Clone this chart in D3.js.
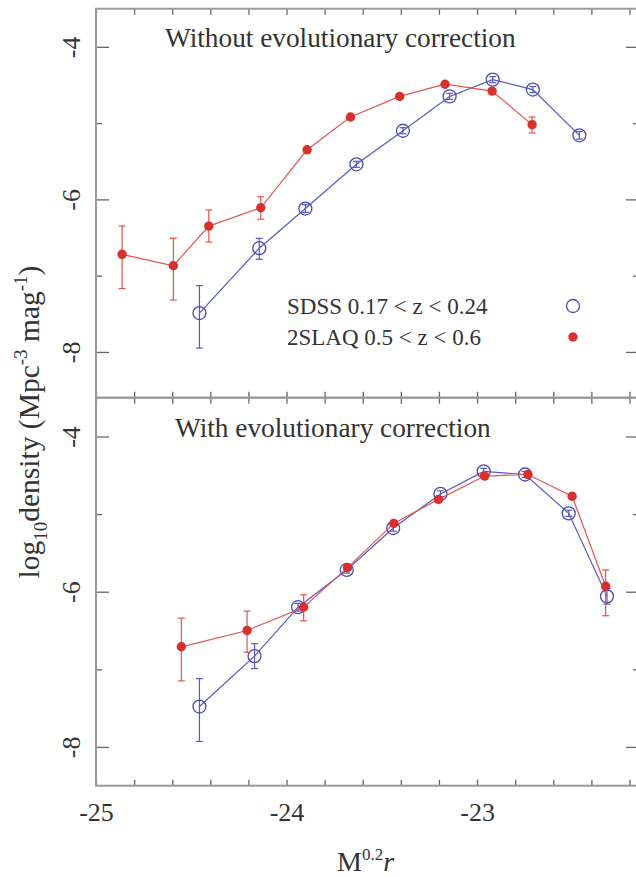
<!DOCTYPE html>
<html><head><meta charset="utf-8">
<script src="https://cdn.jsdelivr.net/npm/d3@7"></script>
<style>
html,body{margin:0;padding:0;background:#fff;}
svg{display:block;}
text{font-family:"Liberation Serif","Times New Roman",serif;fill:#333;}
</style></head>
<body>
<svg id="chart" width="636" height="877"></svg>
<script>
// ---------- data ----------
const xTickValues = [-25, -24, -23];
const yTickValues = [-8, -6, -4];
const yMinorValues = [-7, -5];

// Top panel: without evolutionary correction
const topSdssM   = [-24.457, -24.143, -23.901, -23.633, -23.389, -23.144, -22.918, -22.707, -22.463];
const topSdssLog = [-7.49, -6.64, -6.12, -5.54, -5.10, -4.65, -4.43, -4.56, -5.16];
const topSdssUp  = [0.36, 0.13, 0.05, 0.04, 0.04, 0.04, 0.04, 0.04, 0.05];
const topSdssDn  = [0.46, 0.145, 0.05, 0.04, 0.04, 0.04, 0.04, 0.04, 0.05];

const top2slaqM   = [-24.863, -24.594, -24.408, -24.135, -23.892, -23.664, -23.406, -23.168, -22.921, -22.711];
const top2slaqLog = [-6.72, -6.87, -6.35, -6.11, -5.35, -4.92, -4.65, -4.49, -4.58, -5.02];
const top2slaqUp  = [0.37, 0.36, 0.21, 0.145, 0.03, 0.03, 0.03, 0.03, 0.03, 0.10];
const top2slaqDn  = [0.45, 0.45, 0.21, 0.15, 0.03, 0.03, 0.03, 0.03, 0.03, 0.11];

// Bottom panel: with evolutionary correction
const botSdssM   = [-24.457, -24.168, -23.939, -23.684, -23.440, -23.192, -22.965, -22.748, -22.519, -22.318];
const botSdssLog = [-7.48, -6.83, -6.20, -5.72, -5.18, -4.74, -4.45, -4.49, -4.99, -6.06];
const botSdssUp  = [0.36, 0.16, 0.05, 0.04, 0.04, 0.04, 0.04, 0.04, 0.04, 0.10];
const botSdssDn  = [0.45, 0.16, 0.05, 0.04, 0.04, 0.04, 0.04, 0.04, 0.04, 0.10];

const bot2slaqM   = [-24.552, -24.207, -23.910, -23.680, -23.437, -23.203, -22.960, -22.733, -22.501, -22.325];
const bot2slaqLog = [-6.71, -6.50, -6.20, -5.69, -5.12, -4.81, -4.51, -4.49, -4.77, -5.93];
const bot2slaqUp  = [0.37, 0.25, 0.16, 0.03, 0.03, 0.03, 0.03, 0.03, 0.03, 0.21];
const bot2slaqDn  = [0.44, 0.28, 0.175, 0.03, 0.03, 0.03, 0.03, 0.03, 0.03, 0.38];

const panelTitles = ["Without evolutionary correction", "With evolutionary correction"];
const legendLabels = ["SDSS 0.17 < z < 0.24", "2SLAQ 0.5 < z < 0.6"];

// ---------- styles ----------
const blue = "#4a4ab8", blueLine = "#5858c4";
const red = "#d8302c", redLine = "#e35550";
const frameCol = "#9a9a9a", tickCol = "#666";

const svg = d3.select("#chart");
const x = d3.scaleLinear().domain([-25, -22.15]).range([96, 639]);

const panels = [
  {y: d3.scaleLinear().domain([-8.6, -3.5]).range([397.7, 8.7]),
   sdss: [topSdssM, topSdssLog, topSdssUp, topSdssDn],
   slaq: [top2slaqM, top2slaqLog, top2slaqUp, top2slaqDn],
   title: panelTitles[0], tx: 165, ty: 47, legend: true, bottom: false},
  {y: d3.scaleLinear().domain([-8.5, -3.5]).range([785.7, 397.7]),
   sdss: [botSdssM, botSdssLog, botSdssUp, botSdssDn],
   slaq: [bot2slaqM, bot2slaqLog, bot2slaqUp, bot2slaqDn],
   title: panelTitles[1], tx: 175, ty: 437, legend: false, bottom: true}
];

const xMinor = d3.range(-25, -22.1, 0.2).map(v => +v.toFixed(1));

function styleAxis(g) {
  g.select(".domain").remove();
  g.selectAll(".tick line").attr("stroke", tickCol).attr("stroke-width", 1.3);
}

panels.forEach(p => {
  const y = p.y;
  const [y0, y1] = y.range();
  const g = svg.append("g");

  g.append("g").attr("transform", `translate(${x.range()[0]},0)`)
    .call(d3.axisLeft(y).tickValues(yTickValues).tickSize(-13).tickFormat(""))
    .call(styleAxis);
  g.append("g").attr("transform", `translate(${x.range()[0]},0)`)
    .call(d3.axisLeft(y).tickValues(yMinorValues).tickSize(-6).tickFormat(""))
    .call(styleAxis);
  g.append("g").attr("transform", `translate(${x.range()[1]},0)`)
    .call(d3.axisRight(y).tickValues(yTickValues).tickSize(-13).tickFormat(""))
    .call(styleAxis);
  g.append("g").attr("transform", `translate(${x.range()[1]},0)`)
    .call(d3.axisRight(y).tickValues(yMinorValues).tickSize(-6).tickFormat(""))
    .call(styleAxis);
  g.append("g").attr("transform", `translate(0,${y1})`)
    .call(d3.axisTop(x).tickValues(xMinor).tickSize(-6).tickFormat(""))
    .call(styleAxis);
  g.append("g").attr("transform", `translate(0,${y0})`)
    .call(d3.axisBottom(x).tickValues(xMinor).tickSize(-6).tickFormat(""))
    .call(styleAxis);

  // y tick labels, rotated
  const yl = g.append("g").attr("transform", `translate(${x.range()[0]},0)`)
    .call(d3.axisLeft(y).tickValues(yTickValues).tickSize(0).tickFormat(d => "-" + Math.abs(d)));
  yl.select(".domain").remove();
  yl.selectAll(".tick text")
    .attr("x", 0).attr("dy", null).attr("y", -16)
    .attr("transform", "rotate(-90)")
    .attr("text-anchor", "middle")
    .style("font-family", '"Liberation Serif",serif')
    .style("font-size", "26px").attr("fill", "#333");

  // frame
  g.append("rect").attr("x", x.range()[0]).attr("y", y1)
    .attr("width", x.range()[1] - x.range()[0]).attr("height", y0 - y1)
    .attr("fill", "none").attr("stroke", frameCol).attr("stroke-width", 2);

  // panel title
  g.append("text").attr("x", p.tx).attr("y", p.ty).style("font-size", "27.3px").text(p.title);

  function drawSeries(s, color, lineColor, filled) {
    const [M, L, U, D] = s;
    const pts = M.map((m, i) => ({m, l: L[i], u: U[i], d: D[i]}));
    g.append("path").datum(pts)
      .attr("d", d3.line().x(d => x(d.m)).y(d => y(d.l)))
      .attr("fill", "none").attr("stroke", lineColor).attr("stroke-width", 1.2);
    const eg = g.append("g").attr("stroke", lineColor).attr("stroke-width", 1.2);
    pts.forEach(d => {
      const xa = x(d.m), ya = y(d.l + d.u), yb = y(d.l - d.d);
      eg.append("line").attr("x1", xa).attr("x2", xa).attr("y1", ya).attr("y2", yb);
      eg.append("line").attr("x1", xa - 3.5).attr("x2", xa + 3.5).attr("y1", ya).attr("y2", ya);
      eg.append("line").attr("x1", xa - 3.5).attr("x2", xa + 3.5).attr("y1", yb).attr("y2", yb);
    });
    g.append("g").selectAll("circle").data(pts).join("circle")
      .attr("cx", d => x(d.m)).attr("cy", d => y(d.l))
      .attr("r", filled ? 4.7 : 6.5)
      .attr("fill", filled ? color : "none")
      .attr("stroke", filled ? "none" : color)
      .attr("stroke-width", 1.3);
  }
  drawSeries(p.sdss, blue, blueLine, false);
  drawSeries(p.slaq, red, redLine, true);

  if (p.legend) {
    svg.append("text").attr("x", 287).attr("y", 314).style("font-size", "23px").text(legendLabels[0]);
    svg.append("text").attr("x", 287).attr("y", 345).style("font-size", "23px").text(legendLabels[1]);
    svg.append("circle").attr("cx", 573).attr("cy", 306).attr("r", 6.5)
      .attr("fill", "none").attr("stroke", blue).attr("stroke-width", 1.3);
    svg.append("circle").attr("cx", 573).attr("cy", 337).attr("r", 4.7).attr("fill", red);
  }

  if (p.bottom) {
    const xl = svg.append("g").attr("transform", `translate(0,${y0})`)
      .call(d3.axisBottom(x).tickValues(xTickValues).tickSize(0).tickPadding(17)
        .tickFormat(d => "-" + Math.abs(d)));
    xl.select(".domain").remove();
    xl.selectAll(".tick text").style("font-family", '"Liberation Serif",serif')
      .style("font-size", "26px").attr("fill", "#333");
  }
});

// axis titles
const xt = svg.append("text").attr("x", 337).attr("y", 871).style("font-size", "28px");
xt.append("tspan").text("M");
xt.append("tspan").attr("dy", -11).style("font-size", "17px").text("0.2");
xt.append("tspan").attr("dy", 11).style("font-style", "italic").text("r");

const yt = svg.append("text").attr("transform", "translate(39,422) rotate(-90)")
  .attr("text-anchor", "middle").style("font-size", "29.5px");
yt.append("tspan").text("log");
yt.append("tspan").attr("dy", 8).style("font-size", "19px").text("10");
yt.append("tspan").attr("dy", -8).text("density (Mpc");
yt.append("tspan").attr("dy", -12).style("font-size", "19px").text("-3");
yt.append("tspan").attr("dy", 12).text(" mag");
yt.append("tspan").attr("dy", -12).style("font-size", "19px").text("-1");
yt.append("tspan").attr("dy", 12).text(")");
</script>
</body></html>
